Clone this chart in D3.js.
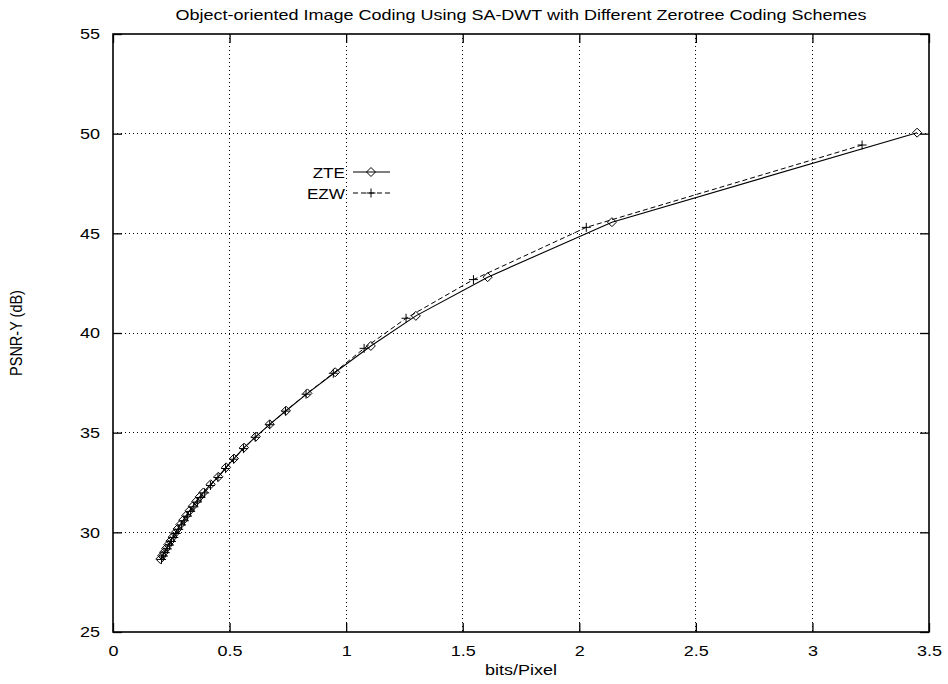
<!DOCTYPE html>
<html>
<head>
<meta charset="utf-8">
<script src="https://cdn.jsdelivr.net/npm/d3@7"></script>
<style>
  html, body { margin: 0; padding: 0; background: #fff; }
  svg { display: block; }
  text { font-family: "Liberation Sans", Arial, Helvetica, sans-serif; fill: #000; }
</style>
</head>
<body>
<svg id="chart" width="948" height="684"></svg>
<script>
// Rate (bits/pixel) and PSNR-Y (dB) for the two zerotree coders
const zteRate = [0.203, 0.211, 0.219, 0.228, 0.237, 0.246, 0.256, 0.266, 0.277, 0.289,
                 0.301, 0.314, 0.328, 0.342, 0.357, 0.372, 0.388, 0.419, 0.452, 0.485,
                 0.519, 0.562, 0.613, 0.672, 0.742, 0.834, 0.953, 1.106, 1.299, 1.607,
                 2.140, 3.449];
const ztePsnr = [28.66, 28.83, 29.00, 29.19, 29.38, 29.56, 29.76, 29.96, 30.17, 30.39,
                 30.61, 30.84, 31.08, 31.31, 31.55, 31.78, 32.00, 32.41, 32.79, 33.26,
                 33.70, 34.25, 34.80, 35.42, 36.10, 36.97, 38.03, 39.35, 40.86, 42.80,
                 45.56, 50.05];

const ezwRate = [0.208, 0.216, 0.224, 0.233, 0.242, 0.251, 0.261, 0.271, 0.282, 0.294,
                 0.306, 0.319, 0.333, 0.347, 0.362, 0.377, 0.393, 0.418, 0.450, 0.483,
                 0.517, 0.560, 0.610, 0.672, 0.740, 0.828, 0.945, 1.077, 1.257, 1.546,
                 2.030, 3.213];
const ezwPsnr = [28.64, 28.81, 28.98, 29.17, 29.36, 29.54, 29.74, 29.94, 30.15, 30.37,
                 30.58, 30.81, 31.05, 31.28, 31.52, 31.75, 31.98, 32.35, 32.75, 33.20,
                 33.67, 34.20, 34.77, 35.40, 36.08, 36.93, 37.98, 39.23, 40.74, 42.68,
                 45.30, 49.43];

const xTicks = [0, 0.5, 1, 1.5, 2, 2.5, 3, 3.5];
const yTicks = [25, 30, 35, 40, 45, 50, 55];

const titleText = "Object-oriented Image Coding Using SA-DWT with Different Zerotree Coding Schemes";
const xLabel = "bits/Pixel";
const yLabel = "PSNR-Y (dB)";
const seriesNames = ["ZTE", "EZW"];

const svg = d3.select("#chart");
const plotL = 113, plotR = 929, plotT = 34, plotB = 632;
const wide = 1.2;      // horizontal stretch of the lettering

const x = d3.scaleLinear().domain([0, 3.5]).range([plotL, plotR]);
const y = d3.scaleLinear().domain([25, 55]).range([plotB, plotT]);

// dotted grid
const grid = svg.append("g").attr("stroke", "#000").attr("stroke-width", 1)
  .attr("stroke-dasharray", "1,3").attr("shape-rendering", "crispEdges");
xTicks.slice(1, -1).forEach(t => {
  grid.append("line").attr("x1", x(t)).attr("x2", x(t)).attr("y1", plotT).attr("y2", plotB);
});
yTicks.slice(1, -1).forEach(t => {
  grid.append("line").attr("x1", plotL).attr("x2", plotR).attr("y1", y(t)).attr("y2", y(t));
});

// axes with inward ticks on all four sides
const tickLen = 9;
const axB = svg.append("g").attr("transform", `translate(0,${plotB})`)
  .call(d3.axisBottom(x).tickValues(xTicks).tickSizeInner(-tickLen).tickSizeOuter(0).tickPadding(13)
    .tickFormat(d => String(d)));
const axT = svg.append("g").attr("transform", `translate(0,${plotT})`)
  .call(d3.axisTop(x).tickValues(xTicks).tickSizeInner(-tickLen).tickSizeOuter(0).tickFormat(""));
const axL = svg.append("g").attr("transform", `translate(${plotL},0)`)
  .call(d3.axisLeft(y).tickValues(yTicks).tickSizeInner(-tickLen).tickSizeOuter(0).tickPadding(13));
const axR = svg.append("g").attr("transform", `translate(${plotR},0)`)
  .call(d3.axisRight(y).tickValues(yTicks).tickSizeInner(-tickLen).tickSizeOuter(0).tickFormat(""));
[axB, axT, axL, axR].forEach(g => {
  g.selectAll(".domain").remove();
  g.selectAll("line").attr("stroke", "#000").attr("stroke-width", 1.3);
  g.selectAll("text").attr("font-size", 15).attr("fill", "#000")
    .style("font-family", '"Liberation Sans", Arial, sans-serif');
});
axB.selectAll("text").attr("transform", `scale(${wide},1)`);
axL.selectAll("text").attr("transform", `scale(${wide},1)`).attr("x", -13 / wide);

// border
svg.append("rect").attr("x", plotL).attr("y", plotT).attr("width", plotR - plotL).attr("height", plotB - plotT)
  .attr("fill", "none").attr("stroke", "#000").attr("stroke-width", 1.6);

// marker shapes
function diamond(g, cx, cy, r) {
  g.append("path").attr("d", `M${cx - r},${cy}L${cx},${cy - r}L${cx + r},${cy}L${cx},${cy + r}Z`)
    .attr("fill", "none").attr("stroke", "#000").attr("stroke-width", 1);
}
function plus(g, cx, cy, r) {
  g.append("path").attr("d", `M${cx - r},${cy}H${cx + r}M${cx},${cy - r}V${cy + r}`)
    .attr("fill", "none").attr("stroke", "#000").attr("stroke-width", 1);
}

const line = d3.line().x(d => x(d[0])).y(d => y(d[1]));
const zte = zteRate.map((r, i) => [r, ztePsnr[i]]);
const ezw = ezwRate.map((r, i) => [r, ezwPsnr[i]]);

svg.append("path").datum(ezw).attr("d", line).attr("fill", "none")
  .attr("stroke", "#000").attr("stroke-width", 1).attr("stroke-dasharray", "5,3");
svg.append("path").datum(zte).attr("d", line).attr("fill", "none")
  .attr("stroke", "#000").attr("stroke-width", 1.1);

const mk = svg.append("g");
zte.forEach(d => diamond(mk, x(d[0]), y(d[1]), 4.5));
ezw.forEach(d => plus(mk, x(d[0]), y(d[1]), 4.5));

// legend
const lg = svg.append("g");
function legendText(label, tx, ty) {
  lg.append("text").attr("transform", `translate(${tx},${ty}) scale(${wide / 1.05},1)`)
    .attr("text-anchor", "end").attr("font-size", 15).text(label);
}
legendText(seriesNames[0], 345, 178);
lg.append("line").attr("x1", 353).attr("x2", 390).attr("y1", 172).attr("y2", 172)
  .attr("stroke", "#000").attr("stroke-width", 1.1);
diamond(lg, 371, 172, 4.5);
legendText(seriesNames[1], 345, 199);
lg.append("line").attr("x1", 353).attr("x2", 390).attr("y1", 193).attr("y2", 193)
  .attr("stroke", "#000").attr("stroke-width", 1).attr("stroke-dasharray", "5,3");
plus(lg, 371, 193, 4.5);

// titles
svg.append("text").attr("transform", `translate(521,20) scale(${wide},1)`).attr("text-anchor", "middle")
  .attr("font-size", 15).text(titleText);
svg.append("text").attr("transform", `translate(521,675) scale(${wide},1)`).attr("text-anchor", "middle")
  .attr("font-size", 15).text(xLabel);
svg.append("text").attr("transform", `translate(22,333) scale(${wide},1) rotate(-90)`).attr("text-anchor", "middle")
  .attr("font-size", 14.5).text(yLabel);
</script>
</body>
</html>
